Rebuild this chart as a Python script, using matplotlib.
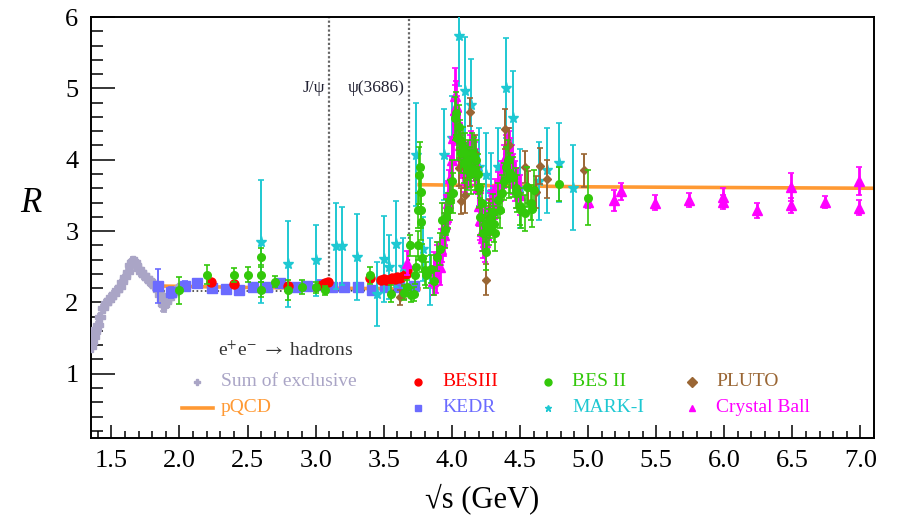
"""R ratio for e+e- -> hadrons, 1.35-7.1 GeV, world data vs pQCD."""
import matplotlib
matplotlib.use("Agg")
import matplotlib.pyplot as plt
from matplotlib.lines import Line2D
from matplotlib.ticker import MultipleLocator, FormatStrFormatter

plt.rcParams["font.family"] = ["Liberation Serif", "DejaVu Serif"]
plt.rcParams["mathtext.fontset"] = "stix"

# ---- data -----------------------------------------------------------------
exc_x = [1.35, 1.36, 1.37, 1.38, 1.39, 1.40, 1.42, 1.44, 1.46, 1.48,
         1.50, 1.52, 1.54, 1.56, 1.58, 1.60, 1.62, 1.64, 1.65, 1.66,
         1.67, 1.68, 1.70, 1.72, 1.74, 1.76, 1.78, 1.80, 1.82, 1.84,
         1.86, 1.87, 1.88, 1.89, 1.90, 1.92, 1.94, 1.96, 1.98, 2.00]
exc_y = [1.38, 1.45, 1.52, 1.58, 1.63, 1.68, 1.80, 1.92, 1.99, 2.04,
         2.08, 2.12, 2.17, 2.22, 2.28, 2.35, 2.43, 2.52, 2.56, 2.58,
         2.56, 2.52, 2.47, 2.42, 2.38, 2.34, 2.30, 2.27, 2.23, 2.18,
         2.10, 2.03, 1.98, 1.97, 2.00, 2.06, 2.10, 2.14, 2.17, 2.20]
exc_e = [0.04, 0.04, 0.04, 0.04, 0.04, 0.04, 0.04, 0.04, 0.04, 0.04,
         0.04, 0.04, 0.04, 0.04, 0.04, 0.04, 0.04, 0.05, 0.05, 0.05,
         0.05, 0.05, 0.05, 0.05, 0.05, 0.05, 0.05, 0.05, 0.06, 0.06,
         0.08, 0.10, 0.10, 0.10, 0.08, 0.06, 0.05, 0.05, 0.05, 0.05]

pqcd_lo_x = [1.84, 2.50, 3.00, 3.76]
pqcd_lo_y = [2.23, 2.21, 2.20, 2.19]
pqcd_hi_x = [3.76, 5.00, 7.10]
pqcd_hi_y = [3.65, 3.62, 3.60]
dot_x = [1.85, 2.50, 3.00, 3.72]
dot_y = [2.16, 2.16, 2.16, 2.17]

kedr_x = [1.84, 1.94, 2.04, 2.13, 2.24, 2.34, 2.44, 2.54, 2.64, 2.74,
          2.85, 2.94, 3.03, 3.12, 3.21, 3.31, 3.41, 3.51, 3.61, 3.72]
kedr_y = [2.23, 2.14, 2.23, 2.27, 2.20, 2.19, 2.17, 2.22, 2.22, 2.27,
          2.22, 2.23, 2.25, 2.22, 2.21, 2.22, 2.18, 2.21, 2.21, 2.23]
kedr_e = [0.24, 0.08, 0.07, 0.06, 0.06, 0.05, 0.06, 0.05, 0.05, 0.05,
          0.05, 0.05, 0.06, 0.05, 0.05, 0.05, 0.05, 0.05, 0.05, 0.06]

bes3_x = [2.23, 2.40, 2.80, 3.05, 3.07, 3.09, 3.40, 3.48, 3.50, 3.52,
          3.54, 3.56, 3.58, 3.60, 3.62, 3.64, 3.66, 3.67]
bes3_y = [2.28, 2.26, 2.23, 2.25, 2.27, 2.29, 2.34, 2.31, 2.33, 2.32,
          2.31, 2.34, 2.33, 2.35, 2.34, 2.37, 2.40, 2.45]
bes3_e = [0.03, 0.03, 0.03, 0.03, 0.03, 0.03, 0.04, 0.03, 0.03, 0.03,
          0.03, 0.03, 0.03, 0.03, 0.03, 0.03, 0.04, 0.04]

besii_x = [2.00, 2.20, 2.40, 2.50, 2.60, 2.60, 2.60, 2.70, 2.80, 2.90,
           3.00, 3.07, 3.40, 3.55, 3.65, 3.67, 3.69, 3.70, 3.72, 3.73,
           3.74, 3.75, 3.75, 3.76, 3.765, 3.77, 3.77, 3.775, 3.78, 3.80,
           3.81, 3.85, 3.87, 3.89, 3.91, 3.93, 3.95, 3.96, 3.97, 3.99,
           4.00, 4.01, 4.02, 4.03, 4.04, 4.05, 4.06, 4.07, 4.08, 4.09,
           4.10, 4.11, 4.12, 4.13, 4.14, 4.15, 4.16, 4.17, 4.18, 4.19,
           4.20, 4.21, 4.22, 4.23, 4.24, 4.25, 4.26, 4.27, 4.28, 4.30,
           4.31, 4.32, 4.34, 4.35, 4.37, 4.38, 4.40, 4.41, 4.42, 4.43,
           4.45, 4.47, 4.48, 4.50, 4.51, 4.54, 4.55, 4.58, 4.59, 4.60,
           4.79, 5.00]
besii_y = [2.17, 2.39, 2.38, 2.39, 2.64, 2.39, 2.18, 2.29, 2.18, 2.22,
           2.21, 2.17, 2.38, 2.12, 2.13, 2.22, 2.80, 2.10, 2.12, 2.38,
           2.50, 2.80, 3.29, 3.78, 3.90, 3.55, 3.29, 3.13, 2.62, 2.45,
           2.38, 2.47, 2.30, 2.64, 2.75, 3.15, 3.01, 3.20, 3.29, 3.43,
           3.70, 3.53, 4.58, 4.65, 4.30, 4.46, 4.28, 4.10, 4.18, 3.95,
           4.09, 3.85, 4.00, 3.90, 3.80, 4.10, 4.04, 3.85, 3.99, 3.80,
           3.62, 3.20, 3.40, 2.97, 3.10, 2.71, 3.00, 3.06, 3.15, 3.27,
           3.10, 2.97, 3.43, 3.30, 3.53, 3.70, 3.90, 3.99, 3.75, 3.81,
           3.76, 3.60, 3.53, 3.35, 3.29, 3.25, 3.62, 3.40, 3.31, 3.57,
           3.66, 3.47]
besii_e = [0.19, 0.13, 0.10, 0.10, 0.12, 0.10, 0.10, 0.08, 0.14, 0.10,
           0.08, 0.06, 0.12, 0.12, 0.10, 0.10, 0.15, 0.10, 0.10, 0.12,
           0.15, 0.20, 0.25, 0.40, 0.35, 0.30, 0.25, 0.25, 0.20, 0.20,
           0.18, 0.20, 0.20, 0.20, 0.22, 0.25, 0.25, 0.25, 0.25, 0.28,
           0.30, 0.28, 0.30, 0.30, 0.30, 0.30, 0.28, 0.28, 0.28, 0.28,
           0.28, 0.28, 0.28, 0.28, 0.28, 0.28, 0.28, 0.28, 0.28, 0.28,
           0.28, 0.26, 0.26, 0.25, 0.25, 0.25, 0.25, 0.25, 0.25, 0.25,
           0.25, 0.25, 0.25, 0.25, 0.26, 0.26, 0.28, 0.28, 0.28, 0.28,
           0.28, 0.28, 0.26, 0.26, 0.25, 0.25, 0.28, 0.25, 0.25, 0.28,
           0.24, 0.38]

mark_x = [2.60, 2.80, 3.00, 3.15, 3.19, 3.30, 3.45, 3.50, 3.54, 3.59,
          3.64, 3.74, 3.79, 3.84, 3.94, 4.00, 4.05, 4.10, 4.14, 4.20,
          4.25, 4.29, 4.34, 4.40, 4.45, 4.50, 4.64, 4.70, 4.79, 4.89]
mark_y = [2.85, 2.54, 2.59, 2.79, 2.79, 2.64, 2.12, 2.61, 2.50, 2.82,
          2.50, 4.07, 2.75, 2.43, 4.07, 4.30, 5.73, 4.97, 4.76, 3.90,
          3.78, 3.55, 3.90, 5.01, 4.59, 3.60, 3.70, 3.85, 3.96, 3.61]
mark_e = [0.86, 0.60, 0.50, 0.60, 0.55, 0.60, 0.45, 0.60, 0.45, 0.60,
          0.40, 0.72, 0.45, 0.47, 0.64, 0.60, 0.70, 0.75, 0.65, 0.55,
          0.60, 0.55, 0.55, 0.70, 0.65, 0.55, 0.55, 0.60, 0.55, 0.60]

pluto_x = [3.62, 3.65, 4.05, 4.07, 4.10, 4.13, 4.17, 4.20, 4.25, 4.27,
           4.39, 4.42, 4.54, 4.56, 4.62, 4.65, 4.70, 4.97]
pluto_y = [2.07, 2.15, 3.88, 3.42, 3.50, 4.67, 4.09, 3.57, 2.32, 3.20,
           4.43, 4.20, 3.90, 3.62, 3.55, 3.91, 3.73, 3.85]
pluto_e = [0.10, 0.10, 0.25, 0.18, 0.25, 0.20, 0.25, 0.25, 0.22, 0.25,
           0.28, 0.25, 0.22, 0.22, 0.22, 0.25, 0.27, 0.23]

cb_x = [3.67, 3.86, 3.87, 3.88, 3.89, 3.90, 3.91, 3.92, 3.93, 3.94,
        3.95, 3.96, 3.97, 3.98, 3.99, 4.00, 4.01, 4.02, 4.025, 4.03,
        4.04, 4.05, 4.06, 4.07, 4.08, 4.09, 4.10, 4.11, 4.12, 4.13,
        4.14, 4.15, 4.16, 4.17, 4.18, 4.19, 4.20, 4.21, 4.22, 4.23,
        4.24, 4.25, 4.26, 4.27, 4.28, 4.29, 4.30, 4.32, 4.34, 4.36,
        4.38, 4.40, 4.41, 4.42, 4.43, 4.44, 4.45, 4.46, 4.48, 4.50,
        5.00, 5.19, 5.24, 5.49, 5.74, 5.99, 5.99, 6.24, 6.49, 6.49,
        6.74, 6.99, 6.99]
cb_y = [2.55, 2.30, 2.45, 2.35, 2.55, 2.60, 2.50, 2.75, 2.85, 2.95,
        3.10, 3.20, 3.40, 3.55, 3.75, 4.00, 4.30, 4.70, 4.90, 4.75,
        4.55, 4.35, 4.20, 4.05, 3.95, 3.90, 3.85, 3.90, 3.95, 4.05,
        4.10, 4.05, 4.00, 3.95, 3.85, 3.60, 3.35, 3.15, 3.00, 2.90,
        2.85, 2.95, 3.05, 3.15, 3.25, 3.30, 3.35, 3.45, 3.55, 3.70,
        3.90, 4.05, 4.15, 4.10, 4.00, 3.90, 3.80, 3.70, 3.60, 3.50,
        3.41, 3.43, 3.56, 3.40, 3.44, 3.48, 3.41, 3.29, 3.62, 3.36,
        3.41, 3.70, 3.33]
cb_e = [0.17, 0.20, 0.25, 0.22, 0.25, 0.25, 0.25, 0.28, 0.28, 0.30,
        0.30, 0.30, 0.30, 0.30, 0.30, 0.32, 0.32, 0.35, 0.38, 0.35,
        0.35, 0.32, 0.32, 0.30, 0.30, 0.30, 0.30, 0.30, 0.30, 0.30,
        0.30, 0.30, 0.30, 0.30, 0.30, 0.30, 0.28, 0.28, 0.28, 0.28,
        0.28, 0.28, 0.28, 0.28, 0.28, 0.28, 0.28, 0.28, 0.28, 0.28,
        0.30, 0.30, 0.30, 0.30, 0.30, 0.30, 0.28, 0.28, 0.28, 0.28,
        0.08, 0.15, 0.12, 0.10, 0.10, 0.13, 0.10, 0.10, 0.20, 0.10,
        0.08, 0.20, 0.10]

resonances = ["J/\u03c8", "\u03c8(3686)"]
res_mass = [3.097, 3.686]
res_floor = [2.25, 2.45]

# ---- styles ---------------------------------------------------------------
C_EXC, C_QCD = "#aaa5c6", "#ff9933"
C_B3, C_KEDR, C_B2 = "#ff0000", "#6b6bff", "#33c80a"
C_MARK, C_PLUTO, C_CB = "#1ec8d2", "#9a6634", "#ff00ff"

fig = plt.figure(figsize=(8.97, 5.16), dpi=100)
ax = fig.add_axes([0.1014, 0.1512, 0.8730, 0.8158])

for xr, nm, fl in zip(res_mass, resonances, res_floor):
    ax.plot([xr, xr], [fl, 6.0], color="0.4", lw=1.6, ls=(0, (1, 1)), zorder=1)
    ax.text(xr - 0.03, 5.01, nm, ha="right", va="center", fontsize=12.5, color="#222233")

ax.plot(pqcd_lo_x, pqcd_lo_y, color=C_QCD, lw=2.6, zorder=2)
ax.plot(pqcd_hi_x, pqcd_hi_y, color=C_QCD, lw=2.6, zorder=2)
ax.plot(dot_x, dot_y, color="0.25", lw=1.2, ls=(0, (1, 1.5)), zorder=2)

eb = dict(capsize=2, capthick=1.2, ls="none")
ax.errorbar(exc_x, exc_y, yerr=exc_e, fmt="P", ms=6.5, elinewidth=2.5,
            color=C_EXC, zorder=3, **eb)
ax.errorbar(kedr_x, kedr_y, yerr=kedr_e, fmt="s", ms=6.5, elinewidth=1.4,
            color=C_KEDR, zorder=4, **eb)
ax.errorbar(bes3_x, bes3_y, yerr=bes3_e, fmt="o", ms=6.5, elinewidth=1.4,
            color=C_B3, zorder=5, **eb)
ax.errorbar(mark_x, mark_y, yerr=mark_e, fmt="*", ms=8, elinewidth=1.4,
            color=C_MARK, zorder=5, **eb)
ax.errorbar(cb_x, cb_y, yerr=cb_e, fmt="^", ms=6.5, elinewidth=2.0,
            color=C_CB, zorder=6, **eb)
ax.errorbar(pluto_x, pluto_y, yerr=pluto_e, fmt="D", ms=4, elinewidth=1.4,
            color=C_PLUTO, zorder=7, **eb)
ax.errorbar(besii_x, besii_y, yerr=besii_e, fmt="o", ms=5.5, elinewidth=1.2,
            color=C_B2, zorder=8, **eb)

ax.set_xlim(1.35, 7.1)
ax.set_ylim(0.1, 6.0)
ax.xaxis.set_major_locator(MultipleLocator(0.5))
ax.xaxis.set_minor_locator(MultipleLocator(0.1))
ax.yaxis.set_major_locator(MultipleLocator(1))
ax.yaxis.set_minor_locator(MultipleLocator(0.2))
ax.xaxis.set_major_formatter(FormatStrFormatter("%.1f"))
ax.yaxis.set_major_formatter(FormatStrFormatter("%d"))
ax.tick_params(which="both", direction="in", top=False, right=False,
               labelsize=19, width=1.1, color="black")
ax.tick_params(axis="x", which="major", length=9.5, pad=9)
ax.tick_params(axis="x", which="minor", length=5)
ax.tick_params(axis="y", which="major", length=17, pad=9)
ax.tick_params(axis="y", which="minor", length=8.5)
for sp in ax.spines.values():
    sp.set_linewidth(1.4)

ax.set_xlabel("\u221as (GeV)", fontsize=22, labelpad=8)
fig.text(31 / 897, 1 - 203 / 516, "R", fontsize=25, style="italic",
         ha="center", va="center")

# ---- legend (ROOT-style text block inside the frame) ----------------------
fig.text(218 / 897, 1 - 350 / 516, "e$^{+}$e$^{-}$ $\\rightarrow$ hadrons",
         fontsize=14, color="#333333", ha="left", va="center")
entries = [
    ("Sum of exclusive", C_EXC, "P", 197, 382),
    ("pQCD", C_QCD, None, 197, 408),
    ("BESIII", C_B3, "o", 418, 382),
    ("KEDR", C_KEDR, "s", 418, 408),
    ("BES II", C_B2, "o", 548, 382),
    ("MARK-I", C_MARK, "*", 548, 408),
    ("PLUTO", C_PLUTO, "D", 692, 382),
    ("Crystal Ball", C_CB, "^", 692, 408),
]
W, H = 897.0, 516.0
for label, col, mk, px, py in entries:
    fy = 1 - py / H
    if mk is None:
        fig.add_artist(Line2D([(px - 15) / W, (px + 16) / W], [fy, fy],
                              color=col, lw=2.6))
    else:
        fig.add_artist(Line2D([px / W], [fy], marker=mk, ms=5, color=col, ls="none"))
    fig.text((px + 24) / W, fy, label, fontsize=14, color=col, ha="left", va="center")

fig.savefig("out.png", dpi=100)
